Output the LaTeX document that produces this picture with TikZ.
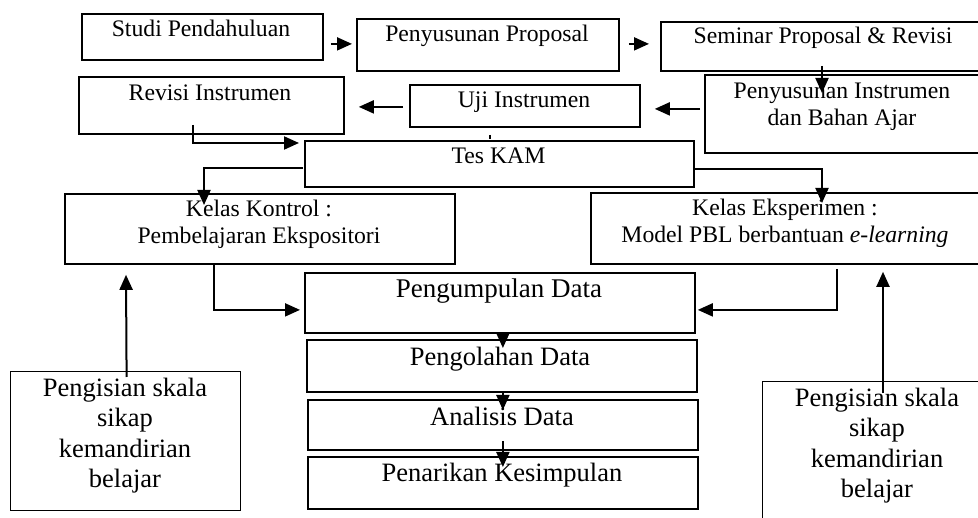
\documentclass[tikz,border=0pt]{standalone}
\usepackage{fontspec}
\setmainfont{Liberation Serif}
\usetikzlibrary{arrows.meta,calc}
\begin{document}
\begin{tikzpicture}[x=1pt,y=-1pt,
  bx/.style={draw, line width=1.8pt, inner sep=0pt, anchor=north west},
  tn/.style={anchor=base, inner sep=0pt, font=\fontsize{23.7}{27}\selectfont},
  tb/.style={anchor=base, inner sep=0pt, font=\fontsize{26.5}{30}\selectfont},
  arr/.style={line width=2pt, -{Triangle[length=15pt,width=13pt]}},
  ln/.style={line width=2pt}]
\path[use as bounding box, clip] (0,0) rectangle (978,518);
% boxes
\node[bx, minimum width=241pt, minimum height=46pt] (studi) at (81,13) {};
\node[bx, minimum width=262pt, minimum height=52pt] (prop) at (356,18) {};
\node[bx, minimum width=330pt, minimum height=49pt] (sem) at (660,21) {};
\node[bx, minimum width=286pt, minimum height=78pt] (pinst) at (704,74) {};
\node[bx, minimum width=230pt, minimum height=42pt] (uji) at (409,84) {};
\node[bx, minimum width=265pt, minimum height=57pt] (rev) at (78,76) {};
\node[bx, minimum width=389pt, minimum height=46pt] (tes) at (304,140) {};
\node[bx, minimum width=390pt, minimum height=70pt] (kon) at (64,193) {};
\node[bx, minimum width=400pt, minimum height=71pt] (eks) at (590,192) {};
\node[bx, minimum width=390pt, minimum height=60pt] (kump) at (304,272) {};
\node[bx, minimum width=390pt, minimum height=52pt] (olah) at (306,339) {};
\node[bx, minimum width=390pt, minimum height=50pt] (anal) at (307,399) {};
\node[bx, minimum width=390pt, minimum height=52pt] (tarik) at (307,456) {};
\node[bx, line width=1.2pt, minimum width=230pt, minimum height=139pt] (isiL) at (10,371) {};
\node[bx, line width=1pt, minimum width=240pt, minimum height=160pt] (isiR) at (762,381) {};
% texts
\node[tn] (studiT) at (201,37) {Studi Pendahuluan};
\node[tn] (propT) at (487,42) {Penyusunan Proposal};
\node[tn] (semT) at (823,44) {Seminar Proposal \& Revisi};
\node[tn] (pinstT1) at (842,99) {Penyusunan Instrumen};
\node[tn] (pinstT2) at (842,126) {dan Bahan Ajar};
\node[tn] (revT) at (210,101) {Revisi Instrumen};
\node[tn] (ujiT) at (524,108) {Uji Instrumen};
\node[tn] (tesT) at (498.5,164) {Tes KAM};
\node[tn] (konT1) at (259,217) {Kelas Kontrol :};
\node[tn] (konT2) at (259,244) {Pembelajaran Ekspositori};
\node[tn] (eksT1) at (785,216) {Kelas Eksperimen :};
\node[tn] (eksT2) at (785,243) {Model PBL berbantuan \textit{e-learning}};
\node[tb, font=\fontsize{27}{30}\selectfont] (kumpT) at (499,298) {Pengumpulan Data};
\node[tb] (olahT) at (500,366) {Pengolahan Data};
\node[tb] (analT) at (502,426) {Analisis Data};
\node[tb] (tarikT) at (502,482) {Penarikan Kesimpulan};
\node[tb] (isiLT1) at (125,397) {Pengisian skala};
\node[tb] (isiLT2) at (125,427) {sikap};
\node[tb] (isiLT3) at (125,458) {kemandirian};
\node[tb] (isiLT4) at (125,488) {belajar};
\node[tb] (isiRT1) at (877,407) {Pengisian skala};
\node[tb] (isiRT2) at (877,437) {sikap};
\node[tb] (isiRT3) at (877,468) {kemandirian};
\node[tb] (isiRT4) at (877,498) {belajar};
% connectors
\draw[arr] ($(studi.east)+(7,7)$) -- ($(prop.west)+(-4,-1)$);
\draw[arr] ($(prop.east)+(9,-1)$) -- ($(sem.west)+(-11,-2.5)$);
\draw[arr] ($(sem.south west)+(162,-6)$) -- ($(pinst.north west)+(118,19)$);
\draw[arr] ($(pinst.west)+(-4,-5)$) -- ($(uji.east)+(14,3)$);
\draw[arr] ($(uji.west)+(-6,1)$) -- ($(rev.east)+(14,1.5)$);
\draw[arr] ($(rev.south west)+(115,-10)$) |- ($(tes.north west)+(-5,3)$);
\draw[ln, line width=1.5pt] ($(uji.south west)+(81,7)$) -- ($(tes.north west)+(186,-1)$);
\draw[arr] ($(tes.west)+(-1,4)$) -| ($(kon.north west)+(140,12)$);
\draw[arr] ($(tes.east)+(0,5)$) -| ($(eks.north west)+(232,11)$);
\draw[arr] ($(kon.south west)+(150,0)$) |- ($(kump.west)+(-4,7)$);
\draw[arr] ($(eks.south west)+(247,4)$) |- ($(kump.east)+(2,7)$);
\draw[arr] ($(kump.south)+(3,0)$) -- ($(olah.north)+(1,9)$);
\draw[arr] ($(olah.south)+(1,0)$) -- ($(anal.north)+(0,11)$);
\draw[arr] ($(anal.south)+(0,-10)$) -- ($(tarik.north)+(0,11)$);
\draw[arr] ($(isiL.north)+(1,6)$) -- ($(kon.south west)+(62,10)$);
\draw[arr] ($(isiR.north west)+(121,12)$) -- ($(eks.south west)+(293,7)$);
\end{tikzpicture}
\end{document}
